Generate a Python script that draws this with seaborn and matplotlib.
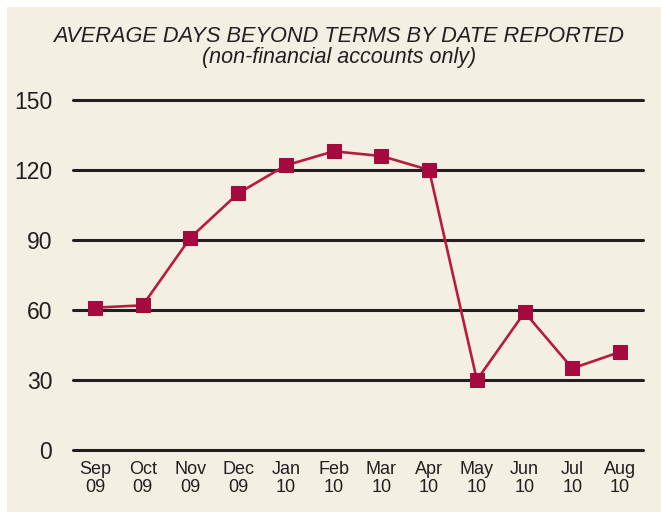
import numpy as np
import pandas as pd
import seaborn as sns
import matplotlib.pyplot as plt
from matplotlib.patches import Rectangle

# ----------------------------
# Data
# ----------------------------
months = ["Sep\n09", "Oct\n09", "Nov\n09", "Dec\n09", "Jan\n10", "Feb\n10",
          "Mar\n10", "Apr\n10", "May\n10", "Jun\n10", "Jul\n10", "Aug\n10"]
avg_days = [61, 62, 91, 110, 122, 128, 126, 120, 30, 59, 35, 42]
y_ticks = [0, 30, 60, 90, 120, 150]

df = pd.DataFrame({"pos": np.arange(len(months)), "days": avg_days})

# ----------------------------
# Style
# ----------------------------
sns.set_style("white")
plt.rcParams["font.family"] = ["Liberation Sans", "DejaVu Sans"]

cream = "#F3EFE2"
ink = "#231F20"
red = "#B71C3C"

fig = plt.figure(figsize=(6.61, 5.12), dpi=100)
fig.patch.set_facecolor("white")
fig.patches.append(Rectangle((7 / 661, 0), 1, 505 / 512, transform=fig.transFigure,
                             facecolor=cream, edgecolor="none", zorder=-10))

ax = fig.add_axes([73 / 661, 62 / 512, 570 / 661, 350 / 512])
ax.set_facecolor("none")

# horizontal rules
for t in y_ticks:
    ax.axhline(t, color=ink, lw=2.2, clip_on=False, zorder=1)

sns.lineplot(data=df, x="pos", y="days", ax=ax, color=red, lw=1.9,
             marker="s", markersize=10.5, markerfacecolor="#A6093D",
             markeredgecolor="#A6093D", zorder=3, clip_on=False)

ax.set_ylim(0, 150)
ax.set_xlim(-0.46, 11.48)
ax.set_yticks(y_ticks)
ax.set_yticklabels([str(t) for t in y_ticks], fontsize=16.5, color=ink)
ax.set_xticks(df["pos"])
ax.set_xticklabels(months, fontsize=13, color=ink, linespacing=1.1)
ax.tick_params(axis="y", length=0, pad=15)
ax.tick_params(axis="x", length=0, pad=8)
ax.set_xlabel("")
ax.set_ylabel("")
sns.despine(ax=ax, left=True, bottom=True)

fig.text(339 / 661, 1 - 36 / 512, "AVERAGE DAYS BEYOND TERMS BY DATE REPORTED",
         ha="center", va="center", fontsize=15.7, style="italic", color=ink)
fig.text(339 / 661, 1 - 58 / 512, "(non-financial accounts only)",
         ha="center", va="center", fontsize=15.5, style="italic", color=ink)

fig.savefig("out.png", dpi=100)
plt.close(fig)
